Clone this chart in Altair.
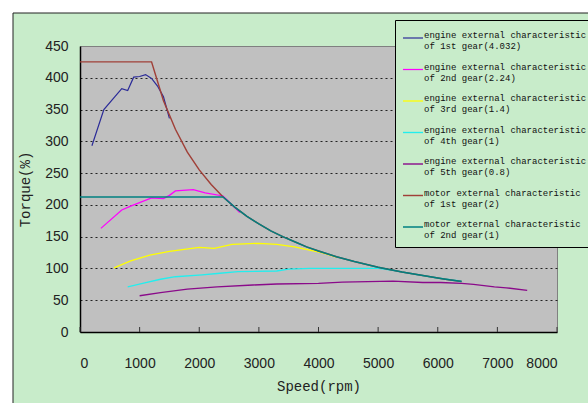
import altair as alt
import pandas as pd

# ---- data ----
series_names = [
    "engine external characteristic|of 1st gear(4.032)",
    "engine external characteristic|of 2nd gear(2.24)",
    "engine external characteristic|of 3rd gear(1.4)",
    "engine external characteristic|of 4th gear(1)",
    "engine external characteristic|of 5th gear(0.8)",
    "motor external characteristic|of 1st gear(2)",
    "motor external characteristic|of 2nd gear(1)",
]
series_colors = ["#2b2b98", "#ff00ff", "#ffff00", "#22eeee", "#8a0a8a", "#a04038", "#008080"]
series_widths = [1.2, 1.5, 1.5, 1.5, 1.5, 1.2, 2.6]

g1_rpm = [200, 400, 700, 800, 900, 1000, 1100, 1200, 1300, 1400, 1500]
g1_tq = [293, 350, 383, 380, 401, 402, 405, 399, 387, 370, 336]

g2_rpm = [350, 700, 850, 1200, 1400, 1500, 1600, 1900, 2100, 2400, 2680]
g2_tq = [163, 192, 198, 211, 210, 215, 222, 224, 219, 214, 188]

g3_rpm = [570, 850, 1170, 1500, 2000, 2250, 2550, 3000, 3300, 3600, 3850, 4050, 4300]
g3_tq = [101, 112, 121, 127, 133, 131.5, 138, 139.5, 138, 134, 129, 125, 118]

g4_rpm = [800, 1050, 1350, 1600, 2050, 2300, 2650, 3300, 3500, 3850, 4600, 5000, 5250, 5600, 6000, 6400]
g4_tq = [71, 76.5, 83, 87, 90, 92, 95, 96, 99, 100, 100, 100, 97, 91, 85, 80]

g5_rpm = [1000, 1350, 1800, 2300, 2900, 3300, 4000, 4400, 5250, 5750, 6050, 6400, 6600, 6950, 7150, 7500]
g5_tq = [57, 62, 67.5, 71, 74, 75.5, 76.5, 78.5, 80, 78, 78, 76.5, 75, 71, 69.5, 65.5]

m1_rpm = [0, 1200, 1400, 1600, 1800, 2000, 2200, 2400, 2600, 2800, 3000, 3200, 3400, 3600,
          3800, 4000, 4300, 4600, 5000, 5400, 5800, 6100, 6400]
m1_tq = [425, 425, 364, 319, 283, 255, 232, 212.5, 196, 182, 170, 159, 150, 142,
         134, 127.5, 118.5, 111, 102, 94.5, 88, 83.5, 79.5]

m2_rpm = [0, 2400, 2600, 2800, 3000, 3200, 3400, 3600, 3800, 4000, 4300, 4600, 5000, 5400,
          5800, 6100, 6400]
m2_tq = [212.5, 212.5, 196, 182, 170, 159, 150, 142, 134, 127.5, 118.5, 111, 102, 94.5,
         88, 83.5, 79.5]

x_ticks = [0, 1000, 2000, 3000, 4000, 5000, 6000, 7000, 8000]
y_ticks = [0, 50, 100, 150, 200, 250, 300, 350, 400, 450]

# ---- build table ----
rows = []
all_series = [(g1_rpm, g1_tq), (g2_rpm, g2_tq), (g3_rpm, g3_tq), (g4_rpm, g4_tq),
              (g5_rpm, g5_tq), (m1_rpm, m1_tq), (m2_rpm, m2_tq)]
for i, (xs, ys) in enumerate(all_series):
    for j, (xv, yv) in enumerate(zip(xs, ys)):
        rows.append({"series": series_names[i], "rpm": xv, "torque": yv, "k": j, "s": i})
df = pd.DataFrame(rows)
ticks_df = pd.DataFrame({"t": x_ticks})

W, H = 477, 286
BG = "#c8ecca"

x_scale = alt.Scale(domain=[0, 8000], nice=False)
y_scale = alt.Scale(domain=[0, 450], nice=False)

LEG_EXPR = "split(datum.label, '|')"

lines = alt.Chart(df).mark_line(clip=True).encode(
    x=alt.X("rpm:Q", scale=x_scale,
            axis=alt.Axis(values=x_ticks, format="d", title="Speed(rpm)", ticks=False, grid=False,
                          labelPadding=24, titlePadding=9, domainColor="black",
                          domainWidth=1.5)),
    y=alt.Y("torque:Q", scale=y_scale,
            axis=alt.Axis(values=y_ticks, format="d", title="Torque(%)", ticks=False, labelPadding=12,
                          titlePadding=12, domainColor="black", domainWidth=1.5,
                          grid=True, gridColor="#222222", gridDash=[2, 3], gridWidth=1,
                          gridOpacity={"condition": {"test": "datum.value == 0 || datum.value == 450",
                                                     "value": 0}, "value": 1})),
    color=alt.Color("series:N", scale=alt.Scale(domain=series_names, range=series_colors),
                    sort=series_names, legend=alt.Legend(title=None, labelExpr=LEG_EXPR)),
    strokeWidth=alt.StrokeWidth("series:N",
                                scale=alt.Scale(domain=series_names, range=series_widths),
                                sort=series_names,
                                legend=alt.Legend(title=None, labelExpr=LEG_EXPR)),
    order="k:Q",
)

inner_ticks = alt.Chart(ticks_df).mark_rule(color="#333333", strokeWidth=1).encode(
    x=alt.X("t:Q", scale=x_scale),
    y=alt.value(H - 5),
    y2=alt.value(H),
)

# white spreadsheet margin strips and chart-area frame (decoration)
strip_left = alt.Chart(ticks_df.head(1)).mark_rect(color="white").encode(
    x=alt.value(-80), x2=alt.value(-67), y=alt.value(-46), y2=alt.value(H + 80))
strip_top = alt.Chart(ticks_df.head(1)).mark_rect(color="white").encode(
    x=alt.value(-80), x2=alt.value(W + 40), y=alt.value(-46), y2=alt.value(-33))
frame = alt.Chart(ticks_df.head(1)).mark_rect(fillOpacity=0, stroke="#222222", strokeWidth=1).encode(
    x=alt.value(-67), x2=alt.value(W + 60), y=alt.value(-33), y2=alt.value(H + 100))

chart = alt.layer(strip_left, strip_top, frame, lines, inner_ticks).properties(
    width=W, height=H,
    autosize=alt.AutoSizeParams(type="none"),
    padding={"left": 80, "top": 46, "right": 31, "bottom": 71},
    background=BG,
).configure_view(
    fill="#c0c0c0", stroke="#808080", strokeWidth=1,
).configure_axis(
    labelFont="Liberation Sans", labelFontSize=14, labelColor="#222222",
    titleFont="Liberation Mono", titleFontSize=14, titleFontWeight="normal", titleColor="#222222",
).configure_legend(
    orient="none", legendX=315, legendY=-26,
    fillColor=BG, strokeColor="black", strokeWidth=1, padding=7,
    labelFont="Liberation Mono", labelFontSize=9, labelColor="#111111",
    labelLimit=400, labelBaseline="alphabetic",
    labelOffset=0, symbolType="stroke", symbolSize=400, rowPadding=7.5,
)

chart.save("out.html", embed_options={"renderer": "svg", "actions": False})
